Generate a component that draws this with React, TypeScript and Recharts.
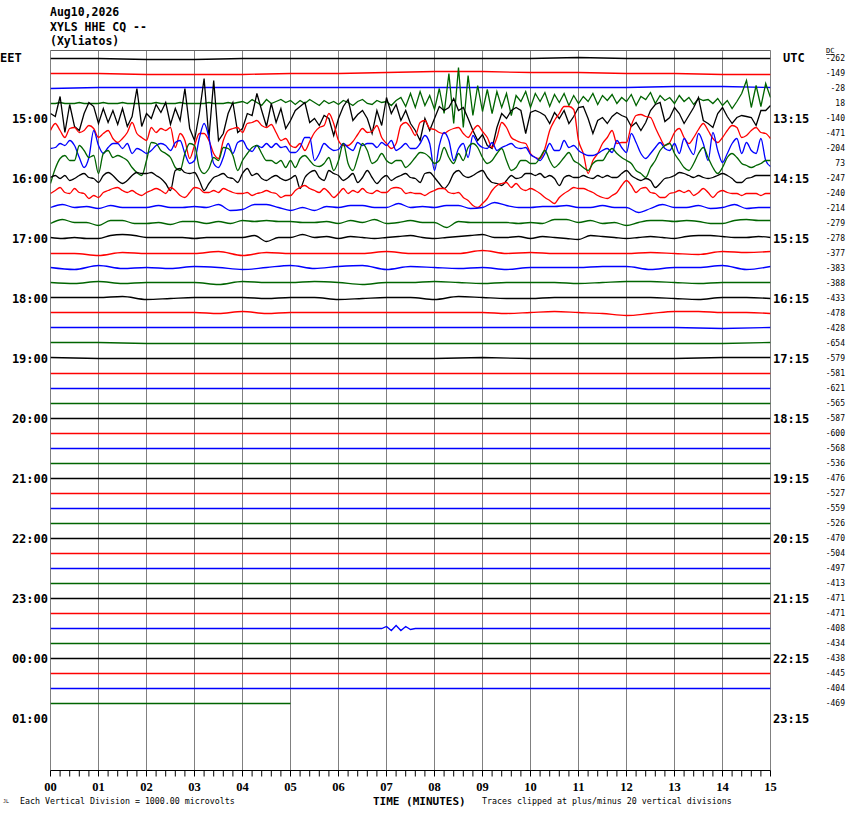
import { LineChart, Line, XAxis, YAxis, ReferenceLine } from 'recharts';

// helicorder XYLS HHE CQ, one trace per 15 minutes, deflections in px-like units (up = positive)
const TITLE = ['Aug10,2026', 'XYLS HHE CQ --', '(Xyliatos)'];
const EET_HOURS = ['15:00', '16:00', '17:00', '18:00', '19:00', '20:00', '21:00', '22:00', '23:00', '00:00', '01:00'];
const UTC_HOURS = ['13:15', '14:15', '15:15', '16:15', '17:15', '18:15', '19:15', '20:15', '21:15', '22:15', '23:15'];
const DC_OFFSETS = [
  -262, -149, -28, 18, -140, -471, -204, 73, -247, -240, -214, -279, -278, -377, -383, -388,
  -433, -478, -428, -654, -579, -581, -621, -565, -587, -600, -568, -536, -476, -527, -559, -526,
  -470, -504, -497, -413, -471, -471, -408, -434, -438, -445, -404, -469,
];
const TRACE_COLORS = ['#000000', '#ff0000', '#0000ff', '#006400'];
const MINUTE_TICKS = Array.from({ length: 76 }, (_, i) => i / 5);
const MINUTES = Array.from({ length: 16 }, (_, i) => i);

// quiet traces, 1 value per minute
const ROW00 = [0, 0, -1, -1, 0, 0, 0, 0, 0, 0, 0, 1, 0, 0, 0, 0];
const ROW01 = [0, 0, -1, -1, -1, 0, 0, 1, 2, 2, 1, 1, 0, 0, -1, -1];
const ROW02 = [0, 1, 1, 1, 1, 1, 1, 1, 1, 1, 1, 1, 1, 2, 2, 1];

// active traces, 10 values per minute
const ROW03 = [
  0, 0, 1, 0, 0, 0, 1, 0, 0, 0,
  0, 1, 0, 0, 0, 1, 0, 0, 0, 0,
  0, 0, 1, 0, 0, 0, 0, 1, 0, 0,
  0, 0, 0, 1, 0, 0, 0, 1, 0, 1,
  2, 0, 4, 1, -2, 4, 0, 2, 4, 1,
  3, -1, 3, 0, 4, 1, -2, 3, 0, 2,
  -1, 3, 1, -2, 2, 4, 0, -1, 3, 1,
  2, -2, 3, 6, -3, 10, -4, 12, -2, 8,
  -6, 15, -10, 30, -20, 36, -24, 28, -12, 18,
  -8, 14, -10, 12, -4, 10, -12, 8, 2, 12,
  -4, 10, 2, 11, -3, 9, 1, 10, -2, 8,
  0, 7, 2, 10, -1, 8, 3, 9, 0, 6,
  2, 9, -2, 7, 4, 11, 0, 8, 3, 6,
  0, 8, 2, 6, -1, 5, 3, 4, 0, 5,
  -2, 3, -5, 2, 10, 23, -4, 18, -3, 20,
  6,
];
const ROW04 = [
  5, 2, 22, -14, 14, -8, -12, 5, 16, 12,
  -5, 10, -4, 8, -6, 10, -8, 2, 30, -8,
  5, 0, 14, 6, 16, -6, 10, -2, 30, -10,
  -22, 5, 40, -20, 38, -22, -15, 5, 16, -14,
  -10, 5, 3, 25, 8, -8, 15, -4, 10, -10,
  -2, 8, 12, 16, -4, 0, -7, 3, 0, -17,
  0, 12, 19, -2, 4, 8, 0, -15, 8, -7,
  21, 5, 14, -2, 8, -5, -12, -22, 0, -12,
  0, 12, 8, 11, 20, 8, 11, 0, -12, -22,
  -16, -27, -30, -9, 5, 0, 8, 11, 8, -15,
  6, 8, 6, 3, -5, 6, 0, 8, -5, 2,
  11, 12, 0, -15, -2, 1, -5, 2, 6, 3,
  1, -8, -4, -12, -4, 8, 14, 16, -3, 1,
  11, 5, -5, 3, 11, 21, -2, -5, -9, 5,
  11, 2, -5, 1, 3, 2, 1, -7, 8, 8,
  13,
];
const ROW05 = [
  3, 10, 3, -4, 5, 6, 1, 3, 8, 5,
  -4, 0, 3, -5, -9, -5, 1, 11, 0, -4,
  -7, 6, 1, 5, 3, 6, -14, 0, -7, -25,
  -12, 0, 0, -7, -20, -25, -7, 3, 5, 6,
  1, 10, 11, 13, 8, 6, 9, 1, -7, -5,
  -12, -14, -10, -17, -8, 1, 6, 8, 20, 10,
  -7, -12, -12, -8, -1, 5, 1, 2, 8, -4,
  -10, -15, -10, 8, 11, 6, -2, 11, 13, 5,
  4, 1, 0, 3, 5, 6, 0, -4, 3, 8,
  2, -4, -14, -4, 11, 6, -4, -7, -9, -10,
  -20, -24, -25, -15, 3, 13, 20, 27, 27, 24,
  -7, -20, -40, -27, -20, -10, -4, 3, -10, -9,
  -9, 8, 18, 19, 17, 16, 6, -4, -12, -9,
  1, 5, -4, -10, -4, 4, 10, 3, -5, -9,
  -4, 3, 8, 6, -4, -2, 3, 6, 1, 0,
  -5,
];
const ROW06 = [
  0, 1, 5, 3, 8, 3, -9, -19, -9, 18,
  3, -5, 1, 5, 5, 0, 5, -5, 0, -2,
  -5, -2, 3, 5, 3, -2, 6, 8, -5, -15,
  -12, 10, 25, 11, -15, -19, -9, 5, -5, 6,
  8, 0, -3, 3, 1, 5, 1, 5, 1, 2,
  -4, -4, 1, 11, 11, -12, -5, 5, 1, -2,
  -1, 5, 1, -2, 6, 3, 5, 5, 1, 6,
  3, 8, -2, 1, 5, 0, 0, 5, 13, 5,
  -22, 3, 16, 8, -12, 0, 5, -9, 13, 5,
  1, 0, 6, -2, 1, 3, 5, 1, 0, 1,
  -6, -9, -12, -5, 5, -2, -2, 8, 1, 3,
  -2, -5, -7, -7, -5, -2, 0, -4, 8, 1,
  -4, 15, 6, -5, -10, -5, 1, 6, 0, -2,
  5, -5, 10, 1, -6, 15, 5, -12, 16, -2,
  -14, -5, 5, 10, -5, 6, -2, -5, 10, -12,
  -18,
];
const ROW07 = [
  -20, -5, 5, 8, 3, 3, 18, 13, 6, 8,
  -10, 10, 13, 6, 8, 6, 3, -4, -9, -12,
  3, 21, 20, 13, 10, 6, -4, -7, 10, 20,
  18, -4, -10, -5, 6, 3, 16, 15, 8, -7,
  3, 10, 16, 18, 10, 3, 3, 0, 3, -4,
  3, -4, 5, 8, 3, -2, -3, 0, 6, -7,
  3, 20, 0, -7, 6, 20, 13, 0, 3, 10,
  3, 0, 3, 3, -4, 0, 6, 11, 10, 6,
  0, 3, 16, 6, 0, 10, 3, 16, 20, 16,
  6, 0, 3, 10, 15, 3, -7, -4, 3, 3,
  0, 0, 6, 13, 3, -4, 0, 6, 11, 3,
  0, -4, -7, 0, 3, 3, 10, 15, 10, 6,
  3, 0, -7, -10, -14, -4, 3, 13, 18, 20,
  10, 3, -4, -7, 0, 10, 16, 6, -4, -10,
  -4, 6, 10, 6, 0, -2, -4, -2, 0, 3,
  3,
];
const ROW08 = [
  1, 3, 0, 3, -2, 0, 3, 5, 1, 0,
  -4, 3, 6, 3, -2, -5, -2, 3, 6, 5,
  5, 6, 3, 0, -5, -12, 8, 10, 6, 5,
  6, -2, -12, -5, 1, 3, 5, 1, 0, -4,
  5, 10, 3, 5, 0, -2, 1, 3, 0, -2,
  0, 3, -10, 1, 6, 8, 1, -2, 8, 5,
  3, -2, 1, 5, -4, 1, 8, 1, -5, 0,
  3, -2, 1, 3, 5, 1, 0, -4, 5, 6,
  1, -5, -10, -5, 5, 8, 3, 1, 3, 6,
  8, 1, -4, -5, -7, -2, 3, 0, 1, 5,
  5, 3, 5, 1, 3, 0, -7, 1, 3, 1,
  1, 3, 1, 0, 3, 1, 3, 1, 1, 5,
  8, 3, 0, -2, 0, -2, -9, -5, 0, 1,
  3, 6, 5, 3, 1, 3, 1, 0, 1, 3,
  5, 3, 0, -4, -4, 0, 1, 3, 3, 3,
  3,
];
const ROW09 = [
  0, 3, 6, 1, 0, 5, 1, 0, -5, -2,
  -4, 1, 3, 5, 6, 3, 1, 3, 0, -2,
  1, 3, 5, 3, 0, 6, 3, -2, -4, 1,
  6, 5, 1, 1, 3, 1, 5, 3, 1, 0,
  0, 1, -2, 0, 1, 3, 1, 0, -4, -2,
  -2, 3, 6, 8, 5, 3, 1, 5, 1, -4,
  0, 5, 0, 3, 1, 5, 1, 0, 3, 1,
  1, 5, 6, 5, 0, 1, 0, 0, -2, 1,
  3, 5, 5, 1, 0, 1, -4, -7, -12, -14,
  -10, -5, 3, 8, 10, 11, 6, 10, 5, 3,
  5, 3, 0, -4, -7, -10, -4, 0, 3, 6,
  5, 5, 3, 1, -2, -4, -5, -2, 1, 8,
  13, 8, 1, 5, 6, 1, 0, -4, -4, 0,
  1, 3, 1, 3, -2, 1, 5, 1, -4, 1,
  3, 1, 0, 0, -2, 0, 0, 0, -2, 0,
  0,
];

// calmer traces, 4 values per minute
const ROW10 = [
  1, 4, 1, 2, 0, 3, 1, 1, 1, 3, 1, 1, 2, 1, 4, -2, -1, 4, 4, 1,
  -2, 1, -2, 2, 1, 3, 3, 1, 1, 5, 1, 2, 1, 3, 3, 0, 1, 6, 3, 1,
  1, 2, 2, 3, 1, 1, 3, 1, 1, -4, 0, 4, 1, 1, 3, 0, 1, 4, 0, 1,
  1,
];
const ROW11 = [
  0, 4, 1, 1, -2, 3, 3, 0, 0, 1, -1, 2, 2, 0, 2, 0, 3, 2, 3, 2,
  2, 1, 1, 2, 0, 3, 1, 4, 0, 1, 3, 1, 1, -4, 2, 1, 1, 1, 1, 0,
  1, 0, 4, 4, 1, 3, 0, 1, -2, 1, 3, 3, 2, 3, 2, 0, 0, 3, 4, 3,
  3,
];
const ROW12 = [
  1, 0, 1, 0, 0, 3, 4, 3, 1, 1, 1, 1, 0, 1, 1, 1, 1, 3, -3, 1,
  1, 4, 1, 2, 0, 2, 1, 0, 1, 2, 3, 1, 0, 1, 2, 3, 4, 1, 1, 2,
  0, 2, 1, 0, -1, 3, 2, 1, 0, 1, 2, 1, 0, 2, 3, 3, 2, 1, 1, 2,
  1,
];

// 2 values per minute
const ROW13 = [0, 0, -2, 1, 0, 0, 0, 2, -2, 1, 0, 0, 0, 0, 2, 0, 0, 0, 3, 0, 1, 0, 0, 0, 0, 1, 0, -1, 2, 1, 2];
const ROW14 = [1, -1, 3, 0, 1, 0, 2, 1, -1, 1, 3, 0, 2, 3, -1, 2, 1, 0, 1, -1, 1, 1, 1, 2, 2, -1, 1, 1, 3, -1, 2];
const ROW15 = [1, 0, 2, 0, 1, 1, 1, -1, 2, 1, 1, 2, 1, -1, 1, 1, 2, 1, 0, 1, 1, 1, 0, 1, 2, 2, 1, 0, 1, 1, 1];
const ROW16 = [1, 1, 1, 2, -1, 0, 1, 1, 1, 0, 1, 1, -1, 0, 1, 1, -1, 2, 1, 0, 0, 1, 1, 1, 1, 1, 0, -1, 1, 1, 0];
const ROW17 = [1, 1, 1, 1, 1, 1, 1, 0, 2, 0, 1, 1, 1, 1, 1, 1, 1, 1, 1, 0, 1, 2, 1, 0, -2, 0, 2, 2, 1, 1, 0];

// quiet evening traces, 1 value per minute
const ROW18 = [1, 1, 1, 1, 1, 1, 1, 1, 1, 1, 1, 1, 1, 1, 0, 1];
const ROW19 = [1, 1, 0, 0, 0, 0, 0, 0, 0, 0, 0, 0, 0, 0, 0, 1];
const ROW20 = [1, 0, 0, 0, 0, 0, 0, 0, 0, 1, 0, 0, 0, 0, 1, 1];
const ROW21 = [0, 0, 0, 0, 0, 0, 0, 0, 0, 0, 0, 0, 0, 0, 0, 0];
const ROW22 = [0, 0, 0, 0, 0, 0, 0, 0, 0, 0, 0, 0, 0, 0, 0, 0];
const ROW23 = [0, 0, 0, 0, 0, 0, 0, 0, 0, 0, 0, 0, 0, 0, 0, 0];
const ROW24 = [0, 0, 0, 0, 0, 0, 0, 0, 0, 0, 0, 0, 0, 0, 0, 0];
const ROW25 = [0, 0, 0, 0, 0, 0, 0, 0, 0, 0, 0, 0, 0, 0, 0, 0];
const ROW26 = [0, 0, 0, 0, 0, 0, 0, 0, 0, 0, 0, 0, 0, 0, 0, 0];
const ROW27 = [0, 0, 0, 0, 0, 0, 0, 0, 0, 0, 0, 0, 0, 0, 0, 0];
const ROW28 = [0, 0, 0, 0, 0, 0, 0, 0, 0, 0, 0, 0, 0, 0, 0, 0];
const ROW29 = [0, 0, 0, 0, 0, 0, 0, 0, 0, 0, 0, 0, 0, 0, 0, 0];
const ROW30 = [0, 0, 0, 0, 0, 0, 0, 0, 0, 0, 0, 0, 0, 0, 0, 0];
const ROW31 = [0, 0, 0, 0, 0, 0, 0, 0, 0, 0, 0, 0, 0, 0, 0, 0];
const ROW32 = [0, 0, 0, 0, 0, 0, 0, 0, 0, 0, 0, 0, 0, 0, 0, 0];
const ROW33 = [0, 0, 0, 0, 0, 0, 0, 0, 0, 0, 0, 0, 0, 0, 0, 0];
const ROW34 = [0, 0, 0, 0, 0, 0, 0, 0, 0, 0, 0, 0, 0, 0, 0, 0];
const ROW35 = [0, 0, 0, 0, 0, 0, 0, 0, 0, 0, 0, 0, 0, 0, 0, 0];
const ROW36 = [0, 0, 0, 0, 0, 0, 0, 0, 0, 0, 0, 0, 0, 0, 0, 0];
const ROW37 = [0, 0, 0, 0, 0, 0, 0, 0, 0, 0, 0, 0, 0, 0, 0, 0];
// small burst near minute 7, 10 values per minute
const ROW38 = [
  0, 0, 0, 0, 0, 0, 0, 0, 0, 0,
  0, 0, 0, 0, 0, 0, 0, 0, 0, 0,
  0, 0, 0, 0, 0, 0, 0, 0, 0, 0,
  0, 0, 0, 0, 0, 0, 0, 0, 0, 0,
  0, 0, 0, 0, 0, 0, 0, 0, 0, 0,
  0, 0, 0, 0, 0, 0, 0, 0, 0, 0,
  0, 0, 0, 0, 0, 0, 0, 0, 0, 0,
  2, -2, 3, -2, 2, -1, 0, 0, 0, 0,
  0, 0, 0, 0, 0, 0, 0, 0, 0, 0,
  0, 0, 0, 0, 0, 0, 0, 0, 0, 0,
  0, 0, 0, 0, 0, 0, 0, 0, 0, 0,
  0, 0, 0, 0, 0, 0, 0, 0, 0, 0,
  0, 0, 0, 0, 0, 0, 0, 0, 0, 0,
  0, 0, 0, 0, 0, 0, 0, 0, 0, 0,
  0, 0, 0, 0, 0, 0, 0, 0, 0, 0,
  0,
];
const ROW39 = [0, 0, 0, 0, 0, 0, 0, 0, 0, 0, 0, 0, 0, 0, 0, 0];
const ROW40 = [0, 0, 0, 0, 0, 0, 0, 0, 0, 0, 0, 0, 0, 0, 0, 0];
const ROW41 = [0, 0, 0, 0, 0, 0, 0, 0, 0, 0, 0, 0, 0, 0, 0, 0];
const ROW42 = [0, 0, 0, 0, 0, 0, 0, 0, 0, 0, 0, 0, 0, 0, 0, 0];
const ROW43 = [0, 0, 0, 0, 0, 0]; // trace stops at minute 5

const TRACES = [
  { values: ROW00, step: 1 }, { values: ROW01, step: 1 }, { values: ROW02, step: 1 },
  { values: ROW03, step: 0.1 }, { values: ROW04, step: 0.1 }, { values: ROW05, step: 0.1 },
  { values: ROW06, step: 0.1 }, { values: ROW07, step: 0.1 }, { values: ROW08, step: 0.1 },
  { values: ROW09, step: 0.1 },
  { values: ROW10, step: 0.25 }, { values: ROW11, step: 0.25 }, { values: ROW12, step: 0.25 },
  { values: ROW13, step: 0.5 }, { values: ROW14, step: 0.5 }, { values: ROW15, step: 0.5 },
  { values: ROW16, step: 0.5 }, { values: ROW17, step: 0.5 },
  { values: ROW18, step: 1 }, { values: ROW19, step: 1 }, { values: ROW20, step: 1 },
  { values: ROW21, step: 1 }, { values: ROW22, step: 1 }, { values: ROW23, step: 1 },
  { values: ROW24, step: 1 }, { values: ROW25, step: 1 }, { values: ROW26, step: 1 },
  { values: ROW27, step: 1 }, { values: ROW28, step: 1 }, { values: ROW29, step: 1 },
  { values: ROW30, step: 1 }, { values: ROW31, step: 1 }, { values: ROW32, step: 1 },
  { values: ROW33, step: 1 }, { values: ROW34, step: 1 }, { values: ROW35, step: 1 },
  { values: ROW36, step: 1 }, { values: ROW37, step: 1 }, { values: ROW38, step: 0.1 },
  { values: ROW39, step: 1 }, { values: ROW40, step: 1 }, { values: ROW41, step: 1 },
  { values: ROW42, step: 1 }, { values: ROW43, step: 1 },
];

const ROW_PX = 15; // trace spacing
const Y_DOMAIN = [-8 / ROW_PX, 712 / ROW_PX];
const HOUR_ROWS = Array.from({ length: 11 }, (_, i) => (i + 1) * 4);
const ALL_ROWS = Array.from({ length: 45 }, (_, i) => i);

const traceData = TRACES.map(({ values, step }, row) =>
  values.map((v, i) => ({ t: Math.round(i * step * 1000) / 1000, y: row - v / ROW_PX }))
);

const MONO = 'DejaVu Sans Mono';

function EetTick({ y, payload }: any) {
  const row = payload.value;
  const label = EET_HOURS[row / 4 - 1];
  if (!label) return null;
  return (
    <text x={48} y={y} dy="0.35em" textAnchor="end" fontFamily={MONO} fontWeight="bold" fontSize={12} fill="#000">
      {label}
    </text>
  );
}

function UtcTick({ y, payload }: any) {
  const row = payload.value;
  const utc = row % 4 === 0 && row > 0 ? UTC_HOURS[row / 4 - 1] : null;
  const dc = DC_OFFSETS[row];
  return (
    <g>
      {utc && (
        <text x={773} y={y} dy="0.35em" fontFamily={MONO} fontWeight="bold" fontSize={12} fill="#000">
          {utc}
        </text>
      )}
      {dc !== undefined && (
        <text x={845} y={y} dy="0.35em" textAnchor="end" fontFamily={MONO} fontSize={8} fill="#000">
          {dc}
        </text>
      )}
    </g>
  );
}

export default function App() {
  return (
    <div style={{ position: 'absolute', left: 0, top: 0, width: 850, height: 814, background: '#fff' }}>
      <LineChart width={850} height={814} margin={{ top: 50.5, right: 0, bottom: 0, left: 0.5 }}>
        <XAxis
          dataKey="t"
          type="number"
          domain={[0, 15]}
          ticks={MINUTE_TICKS}
          interval={0}
          height={43.5}
          tickSize={6}
          tickMargin={6}
          allowDataOverflow
          axisLine={{ stroke: '#000' }}
          tickLine={{ stroke: '#000' }}
          tickFormatter={(v: number) => (Number.isInteger(v) ? String(v).padStart(2, '0') : '')}
          tick={{ fontFamily: 'Liberation Serif', fontWeight: 'bold', fontSize: 12.5, fill: '#000' }}
        />
        <YAxis
          yAxisId="left"
          type="number"
          domain={Y_DOMAIN}
          reversed
          allowDataOverflow
          width={50}
          ticks={HOUR_ROWS}
          interval={0}
          axisLine={false}
          tickLine={false}
          tick={<EetTick />}
        />
        <YAxis
          yAxisId="right"
          orientation="right"
          type="number"
          domain={Y_DOMAIN}
          reversed
          allowDataOverflow
          width={79.5}
          ticks={ALL_ROWS}
          interval={0}
          axisLine={false}
          tickLine={false}
          tick={<UtcTick />}
        />
        {MINUTES.map((m) => (
          <ReferenceLine key={'m' + m} yAxisId="left" x={m} stroke="#808080" strokeWidth={1} />
        ))}
        <ReferenceLine yAxisId="left" y={Y_DOMAIN[0]} stroke="#606060" strokeWidth={1} />
        {traceData.map((pts, row) => (
          <Line
            key={'r' + row}
            yAxisId="left"
            data={pts}
            dataKey="y"
            // the broadband rows ringing after the event look smooth, the noisy ones stay jagged
            type={row >= 5 && row <= 17 ? 'monotone' : 'linear'}
            stroke={TRACE_COLORS[row % 4]}
            strokeWidth={1.3}
            dot={false}
            activeDot={false}
            isAnimationActive={false}
          />
        ))}
      </LineChart>
      <svg width={850} height={814} style={{ position: 'absolute', left: 0, top: 0, pointerEvents: 'none' }}>
        {TITLE.map((s, i) => (
          <text key={s} x={50} y={16 + i * 14.5} fontFamily={MONO} fontSize={11.5} fontWeight={600} fill="#000">
            {s}
          </text>
        ))}
        <text x={0} y={62} fontFamily={MONO} fontWeight="bold" fontSize={12} fill="#000">EET</text>
        <text x={783} y={62} fontFamily={MONO} fontWeight="bold" fontSize={12} fill="#000">UTC</text>
        <text x={826} y={53} fontFamily={MONO} fontSize={7} fill="#000" textDecoration="underline">DC</text>
        <text x={3} y={803} fontFamily={MONO} fontSize={5} fill="#000">JL</text>
        <text x={20} y={804} fontFamily={MONO} fontSize={8.3} fill="#000">Each Vertical Division = 1000.00 microvolts</text>
        <text x={373} y={805} fontFamily={MONO} fontWeight="bold" fontSize={11} fill="#000">TIME (MINUTES)</text>
        <text x={482} y={804} fontFamily={MONO} fontSize={8.3} fill="#000">Traces clipped at plus/minus 20 vertical divisions</text>
      </svg>
    </div>
  );
}
